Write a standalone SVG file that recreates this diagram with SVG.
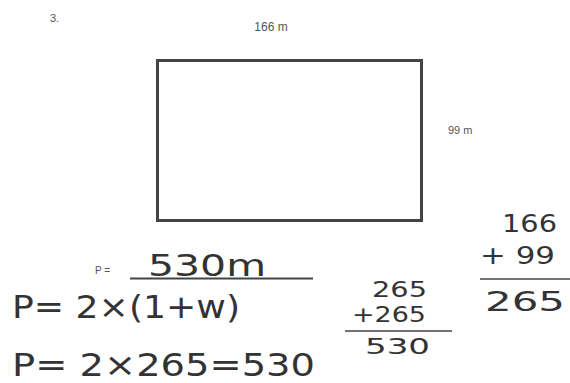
<svg xmlns="http://www.w3.org/2000/svg" width="570" height="383" viewBox="0 0 570 383">
<style>
.print{font-family:"Liberation Sans",Arial,sans-serif;fill:#555}
.hand{font-family:"DejaVu Sans","Liberation Sans",sans-serif;fill:#333}
.ln{stroke:#444;fill:none}
</style>
<rect width="570" height="383" fill="#fff"/>
<text class="print" x="50" y="22" font-size="11">3.</text>
<text class="print" x="271" y="31" font-size="12" text-anchor="middle">166 m</text>
<rect class="ln" x="157.5" y="60.5" width="264" height="160" stroke-width="3" stroke="#333"/>
<text class="print" x="448" y="134" font-size="11">99 m</text>
<text class="print" x="95" y="274" font-size="10">P =</text>
<text class="hand" x="148" y="276" font-size="30" textLength="118" lengthAdjust="spacingAndGlyphs">530m</text>
<line class="ln" x1="130" y1="278.5" x2="313" y2="278.5" stroke-width="2"/>
<text class="hand" x="12" y="318" font-size="32" textLength="228" lengthAdjust="spacingAndGlyphs">P= 2×(1+w)</text>
<text class="hand" x="12" y="376" font-size="32" textLength="303" lengthAdjust="spacingAndGlyphs">P= 2×265=530</text>
<text class="hand" x="372" y="297" font-size="22" textLength="55" lengthAdjust="spacingAndGlyphs">265</text>
<text class="hand" x="352" y="322" font-size="22" textLength="74" lengthAdjust="spacingAndGlyphs">+265</text>
<line class="ln" x1="345" y1="331" x2="452" y2="331" stroke-width="1.5"/>
<text class="hand" x="365" y="354" font-size="22" textLength="65" lengthAdjust="spacingAndGlyphs">530</text>
<text class="hand" x="502" y="232" font-size="24" textLength="55" lengthAdjust="spacingAndGlyphs">166</text>
<text class="hand" x="480" y="264" font-size="24" textLength="75" lengthAdjust="spacingAndGlyphs">+ 99</text>
<line class="ln" x1="480" y1="279" x2="570" y2="279" stroke-width="1.5"/>
<text class="hand" x="485" y="311" font-size="26" textLength="80" lengthAdjust="spacingAndGlyphs">265</text>
</svg>
